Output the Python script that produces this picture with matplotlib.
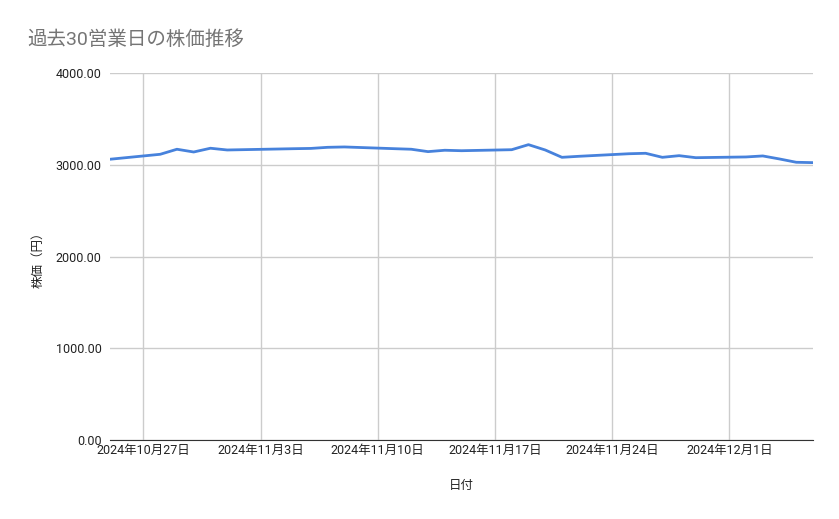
import datetime as dt
import matplotlib
matplotlib.use('Agg')
import matplotlib.pyplot as plt

plt.rcParams['font.family'] = ['Roboto', 'Noto Sans CJK JP', 'DejaVu Sans']

dates = [
    '2024-10-25', '2024-10-28', '2024-10-29', '2024-10-30', '2024-10-31', '2024-11-01',
    '2024-11-05', '2024-11-06', '2024-11-07', '2024-11-08',
    '2024-11-11', '2024-11-12', '2024-11-13', '2024-11-14', '2024-11-15',
    '2024-11-18', '2024-11-19', '2024-11-20', '2024-11-21', '2024-11-22',
    '2024-11-25', '2024-11-26', '2024-11-27', '2024-11-28', '2024-11-29',
    '2024-12-02', '2024-12-03', '2024-12-04', '2024-12-05', '2024-12-06',
]
prices = [
    3060, 3114, 3169, 3139, 3180, 3161,
    3175, 3178, 3190, 3194,
    3175, 3169, 3143, 3158, 3153,
    3164, 3219, 3161, 3081, 3092,
    3120, 3125, 3081, 3099, 3077,
    3085, 3096, 3063, 3027, 3023,
]
tick_dates = ['2024-10-27', '2024-11-03', '2024-11-10', '2024-11-17', '2024-11-24', '2024-12-01']
y_ticks = [0, 1000, 2000, 3000, 4000]

x = [dt.datetime.strptime(d, '%Y-%m-%d') for d in dates]
xt = [dt.datetime.strptime(d, '%Y-%m-%d') for d in tick_dates]

fig = plt.figure(figsize=(8.39, 5.19), dpi=100)
ax = fig.add_axes([110 / 839, 1 - 440 / 519, 703 / 839, 367 / 519])

ax.plot(x, prices, color='#4782dc', linewidth=2)

ax.set_xlim(x[0], x[-1])
ax.set_ylim(0, 4000)
ax.set_yticks(y_ticks)
ax.set_yticklabels([f'{v:.2f}' for v in y_ticks])
ax.set_xticks(xt)
ax.set_xticklabels([f'{d.year}年{d.month}月{d.day}日' for d in xt])

ax.grid(True, color='#cccccc', linewidth=1)
ax.set_axisbelow(True)
for s in ['top', 'right', 'left']:
    ax.spines[s].set_visible(False)
ax.spines['bottom'].set_color('#333333')
ax.tick_params(axis='both', length=0, labelsize=9, colors='#222222')
ax.tick_params(axis='y', pad=6)
ax.tick_params(axis='x', pad=3)

ax.set_xlabel('日付', fontsize=9, color='#222222', labelpad=16)
ax.set_ylabel('株価（円）', fontsize=9, color='#222222', labelpad=8)

fig.text(27 / 839, 1 - 40 / 519, '過去30営業日の株価推移', fontsize=14, color='#757575',
         va='center', ha='left')

fig.savefig('out.png', dpi=100)
